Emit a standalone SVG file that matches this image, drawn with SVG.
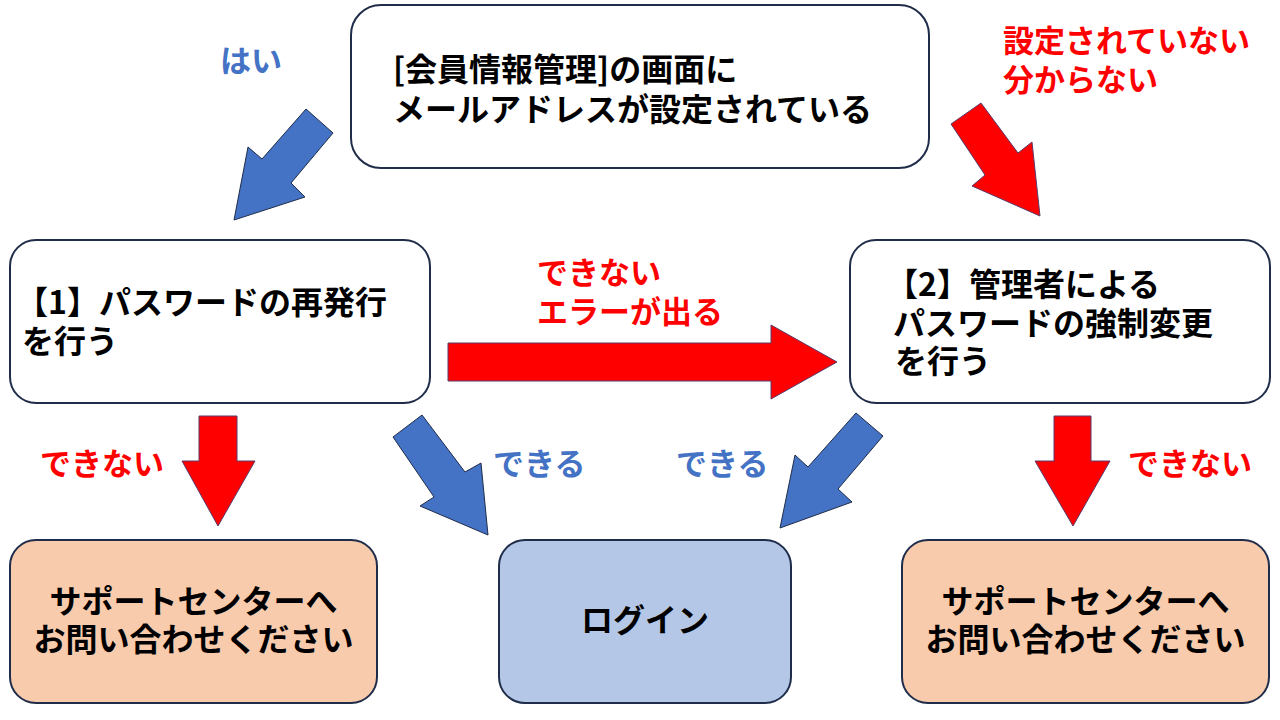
<svg xmlns="http://www.w3.org/2000/svg" width="1280" height="720" viewBox="0 0 1280 720">
<style>
text{font-family:"Noto Sans CJK JP","Noto Sans",sans-serif;font-weight:700;font-size:32px;}
.lbl{font-size:31px;}
.box{stroke:#1F2D4A;stroke-width:2;}
.t{fill:#000;}
.red{fill:#FF0000;}
.blue{fill:#4472C4;}
.ar{fill:#FF0000;stroke:#5A3A6A;stroke-width:1;}
.ab{fill:#4472C4;stroke:#1F2D4A;stroke-width:1;}
</style>
<rect width="1280" height="720" fill="#fff"/>
<g id="connectors">
<polygon class="ab" points="306,109 333,133 291,183 305,197 234,220 248,147 262,159"/>
<polygon class="ar" points="981,103 1018,153 1032,142 1040,216 972,186 985,175 951,124"/>
<polygon class="ar" points="448,343 771,343 771,325 837,362 771,399 771,381 448,381"/>
<polygon class="ar" points="199,416 237,416 237,461 255,461 218,526 182,461 199,461"/>
<polygon class="ab" points="422,415 465,472 481,463 488,535 420,506 434,497 393,437"/>
<polygon class="ab" points="856,413 883,436 838,489 852,502 780,528 795,455 808,467"/>
<polygon class="ar" points="1054,416 1091,416 1091,461 1110,461 1073,526 1035,461 1054,461"/>
<text class="blue lbl" x="220" y="72" font-size="30">はい</text>
<text class="red lbl" x="1003" y="52">設定されていない</text>
<text class="red lbl" x="1003" y="91">分からない</text>
<text class="red lbl" x="537" y="284">できない</text>
<text class="red lbl" x="537" y="323">エラーが出る</text>
<text class="red lbl" x="40" y="475">できない</text>
<text class="blue lbl" x="493" y="475">できる</text>
<text class="blue lbl" x="676" y="475">できる</text>
<text class="red lbl" x="1128" y="475">できない</text>
</g>
<g id="node-top">
<rect class="box" x="351" y="5" width="578" height="163" rx="30" fill="#fff"/>
<text class="t" x="393" y="81">[会員情報管理]の画面に</text>
<text class="t" x="393" y="121">メールアドレスが設定されている</text>
</g>
<g id="node-1">
<rect class="box" x="10" y="240" width="420" height="163" rx="26" fill="#fff"/>
<text class="t" x="16" y="314">【1】パスワードの再発行</text>
<text class="t" x="22" y="353">を行う</text>
</g>
<g id="node-2">
<rect class="box" x="850" y="240" width="420" height="163" rx="26" fill="#fff"/>
<text class="t" x="886" y="296">【2】管理者による</text>
<text class="t" x="893" y="335">パスワードの強制変更</text>
<text class="t" x="895" y="373">を行う</text>
</g>
<g id="node-support-left">
<rect class="box" x="10" y="540" width="367" height="163" rx="26" fill="#F8CBAD"/>
<text class="t" x="193.5" y="613" text-anchor="middle">サポートセンターへ</text>
<text class="t" x="193.5" y="651" text-anchor="middle">お問い合わせください</text>
</g>
<g id="node-login">
<rect class="box" x="499" y="540" width="292" height="163" rx="26" fill="#B4C7E7"/>
<text class="t" x="645" y="632" text-anchor="middle">ログイン</text>
</g>
<g id="node-support-right">
<rect class="box" x="902" y="540" width="367" height="163" rx="26" fill="#F8CBAD"/>
<text class="t" x="1085.5" y="613" text-anchor="middle">サポートセンターへ</text>
<text class="t" x="1085.5" y="651" text-anchor="middle">お問い合わせください</text>
</g>
</svg>
